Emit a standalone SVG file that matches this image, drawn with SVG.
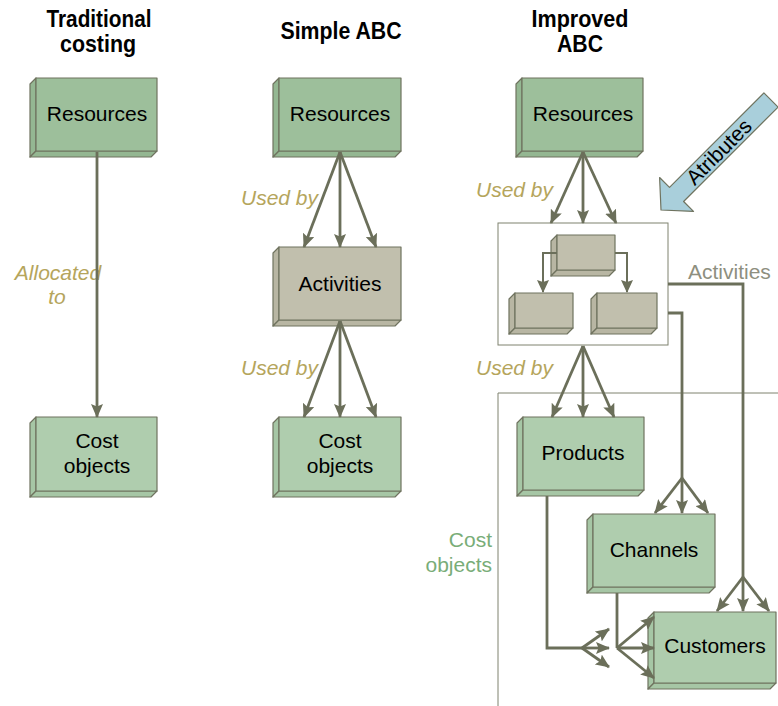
<svg xmlns="http://www.w3.org/2000/svg" width="778" height="706" viewBox="0 0 778 706">
  <style>
    .title { font-family: "Liberation Sans Narrow", "Liberation Sans", Arial, sans-serif; font-weight: bold; font-size: 24px; fill: #000; text-anchor: middle; }
    .node { font-family: "Liberation Sans", Arial, sans-serif; font-size: 21px; fill: #000; text-anchor: middle; }
    .usage { font-family: "Liberation Sans", Arial, sans-serif; font-size: 21px; font-style: italic; fill: #b5a55c; }
    .grey-label { font-family: "Liberation Sans", Arial, sans-serif; font-size: 21px; fill: #8e8f80; }
    .green-label { font-family: "Liberation Sans", Arial, sans-serif; font-size: 21px; fill: #79ad78; text-anchor: end; }
    .face { stroke: #6f735f; stroke-width: 1.2; stroke-linejoin: round; }
    .res { fill: #9dbf9b; }
    .obj { fill: #afcdae; }
    .act { fill: #c1bfad; }
    .res-side { fill: #94b792; }
    .obj-side { fill: #a6c6a5; }
    .act-side { fill: #b8b6a3; }
    .frame { fill: none; stroke: #7f826f; stroke-width: 1; }
    .conn { fill: none; stroke: #6b6f5a; stroke-width: 2.8; stroke-linejoin: miter; }
    .conn-thin { fill: none; stroke: #6b6f5a; stroke-width: 2; }
  </style>
  <defs>
    <marker id="head" markerUnits="userSpaceOnUse" viewBox="0 0 14 12" markerWidth="14" markerHeight="12" refX="13" refY="6" orient="auto">
      <path d="M0,0 L14,6 L0,12 L2.5,6 z" fill="#6b6f5a"/>
    </marker>
    <marker id="head-s" markerUnits="userSpaceOnUse" viewBox="0 0 13 12" markerWidth="13" markerHeight="12" refX="12" refY="6" orient="auto">
      <path d="M0,0 L13,6 L0,12 L2,6 z" fill="#6b6f5a"/>
    </marker>
  </defs>

  <rect width="778" height="706" fill="#ffffff"/>

  <!-- column headings -->
  <g id="headings">
    <text class="title" x="99" y="27" textLength="105" lengthAdjust="spacingAndGlyphs">Traditional</text>
    <text class="title" x="98" y="52" textLength="76" lengthAdjust="spacingAndGlyphs">costing</text>
    <text class="title" x="341" y="39" textLength="121" lengthAdjust="spacingAndGlyphs">Simple ABC</text>
    <text class="title" x="580" y="27" textLength="97" lengthAdjust="spacingAndGlyphs">Improved</text>
    <text class="title" x="580" y="52" textLength="46" lengthAdjust="spacingAndGlyphs">ABC</text>
  </g>

  <!-- outlines of the activity group and the cost-object area -->
  <g id="activities-frame">
    <rect class="frame" x="498" y="223" width="170" height="122" fill="#ffffff"/>
  </g>
  <g id="cost-objects-frame">
    <path class="frame" d="M778,393 H498 V706"/>
  </g>

  <!-- Traditional costing -->
  <g id="trad-resources">
    <path class="face res-side" d="M30,84 L36,78 L36,151 L30,157 z"/>
    <path class="face res-side" d="M36,151 L157,151 L151,157 L30,157 z"/>
    <rect class="face res" x="36" y="78" width="121" height="73"/>
    <text class="node" x="97" y="121">Resources</text>
  </g>
  <g id="trad-cost-objects">
    <path class="face obj-side" d="M30,423 L36,417 L36,491 L30,497 z"/>
    <path class="face obj-side" d="M36,491 L157,491 L151,497 L30,497 z"/>
    <rect class="face obj" x="36" y="417" width="121" height="74"/>
    <text class="node" x="97" y="448">Cost</text>
    <text class="node" x="97" y="473">objects</text>
  </g>

  <!-- Simple ABC -->
  <g id="simple-resources">
    <path class="face res-side" d="M273,84 L279,78 L279,151 L273,157 z"/>
    <path class="face res-side" d="M279,151 L401,151 L395,157 L273,157 z"/>
    <rect class="face res" x="279" y="78" width="122" height="73"/>
    <text class="node" x="340" y="121">Resources</text>
  </g>
  <g id="simple-activities">
    <path class="face act-side" d="M273,253 L279,247 L279,320 L273,326 z"/>
    <path class="face act-side" d="M279,320 L401,320 L395,326 L273,326 z"/>
    <rect class="face act" x="279" y="247" width="122" height="73"/>
    <text class="node" x="340" y="291">Activities</text>
  </g>
  <g id="simple-cost-objects">
    <path class="face obj-side" d="M273,423 L279,417 L279,491 L273,497 z"/>
    <path class="face obj-side" d="M279,491 L401,491 L395,497 L273,497 z"/>
    <rect class="face obj" x="279" y="417" width="122" height="74"/>
    <text class="node" x="340" y="448">Cost</text>
    <text class="node" x="340" y="473">objects</text>
  </g>

  <!-- Improved ABC -->
  <g id="improved-resources">
    <path class="face res-side" d="M516,84 L522,78 L522,151 L516,157 z"/>
    <path class="face res-side" d="M522,151 L643,151 L637,157 L516,157 z"/>
    <rect class="face res" x="522" y="78" width="121" height="73"/>
    <text class="node" x="583" y="121">Resources</text>
  </g>
  <g id="activity-top">
    <path class="face act-side" d="M551,241 L557,235 L557,270 L551,276 z"/>
    <path class="face act-side" d="M557,270 L615,270 L609,276 L551,276 z"/>
    <rect class="face act" x="557" y="235" width="58" height="35"/>
  </g>
  <g id="activity-left">
    <path class="face act-side" d="M509,299 L515,293 L515,328 L509,334 z"/>
    <path class="face act-side" d="M515,328 L573,328 L567,334 L509,334 z"/>
    <rect class="face act" x="515" y="293" width="58" height="35"/>
  </g>
  <g id="activity-right">
    <path class="face act-side" d="M591,299 L597,293 L597,328 L591,334 z"/>
    <path class="face act-side" d="M597,328 L657,328 L651,334 L591,334 z"/>
    <rect class="face act" x="597" y="293" width="60" height="35"/>
  </g>
  <g id="products">
    <path class="face obj-side" d="M517,423 L523,417 L523,490 L517,496 z"/>
    <path class="face obj-side" d="M523,490 L644,490 L638,496 L517,496 z"/>
    <rect class="face obj" x="523" y="417" width="121" height="73"/>
    <text class="node" x="583" y="460">Products</text>
  </g>
  <g id="channels">
    <path class="face obj-side" d="M587,520 L593,514 L593,587 L587,593 z"/>
    <path class="face obj-side" d="M593,587 L715,587 L709,593 L587,593 z"/>
    <rect class="face obj" x="593" y="514" width="122" height="73"/>
    <text class="node" x="654" y="557">Channels</text>
  </g>
  <g id="customers">
    <path class="face obj-side" d="M648,618 L654,612 L654,683 L648,689 z"/>
    <path class="face obj-side" d="M654,683 L776,683 L770,689 L648,689 z"/>
    <rect class="face obj" x="654" y="612" width="122" height="71"/>
    <text class="node" x="715" y="653">Customers</text>
  </g>

  <!-- attribute arrow -->
  <g id="atributes">
    <polygon points="763.9,92.9 778.1,107.1 683.6,201.5 693.5,211.4 661,210 659.6,177.5 669.5,187.4" fill="#a9cfdb" stroke="#6f735f" stroke-width="1.2" stroke-linejoin="round"/>
    <text class="node" font-size="20" transform="translate(719,152) rotate(-45)" x="0" y="7">Atributes</text>
  </g>

  <!-- labels -->
  <g id="labels">
    <text class="usage" x="58" y="280" text-anchor="middle">Allocated</text>
    <text class="usage" x="57" y="304" text-anchor="middle">to</text>
    <text class="usage" x="241" y="205">Used by</text>
    <text class="usage" x="241" y="375">Used by</text>
    <text class="usage" x="476" y="197">Used by</text>
    <text class="usage" x="476" y="375">Used by</text>
    <text class="grey-label" x="688" y="279">Activities</text>
    <text class="green-label" x="492" y="547">Cost</text>
    <text class="green-label" x="492" y="572">objects</text>
  </g>

  <!-- connectors -->
  <g id="connectors">
    <line class="conn" x1="97" y1="152" x2="97" y2="417" marker-end="url(#head)"/>

    <line class="conn" x1="340" y1="152" x2="304" y2="247" marker-end="url(#head)"/>
    <line class="conn" x1="340" y1="152" x2="340" y2="247" marker-end="url(#head)"/>
    <line class="conn" x1="340" y1="152" x2="376" y2="247" marker-end="url(#head)"/>

    <line class="conn" x1="340" y1="321" x2="304" y2="417" marker-end="url(#head)"/>
    <line class="conn" x1="340" y1="321" x2="340" y2="417" marker-end="url(#head)"/>
    <line class="conn" x1="340" y1="321" x2="376" y2="417" marker-end="url(#head)"/>

    <line class="conn" x1="583" y1="152" x2="551" y2="223" marker-end="url(#head)"/>
    <line class="conn" x1="583" y1="152" x2="583" y2="223" marker-end="url(#head)"/>
    <line class="conn" x1="583" y1="152" x2="616" y2="223" marker-end="url(#head)"/>

    <line class="conn" x1="583" y1="346" x2="552" y2="417" marker-end="url(#head)"/>
    <line class="conn" x1="583" y1="346" x2="583" y2="417" marker-end="url(#head)"/>
    <line class="conn" x1="583" y1="346" x2="614" y2="417" marker-end="url(#head)"/>

    <path class="conn-thin" d="M557,253 H543 V292" marker-end="url(#head-s)"/>
    <path class="conn-thin" d="M615,253 H627 V292" marker-end="url(#head-s)"/>

    <path class="conn" d="M668,313 H682 V478"/>
    <line class="conn" x1="682" y1="478" x2="655" y2="513" marker-end="url(#head)"/>
    <line class="conn" x1="682" y1="478" x2="682" y2="513" marker-end="url(#head)"/>
    <line class="conn" x1="682" y1="478" x2="708" y2="513" marker-end="url(#head)"/>

    <path class="conn" d="M668,284 H743 V577"/>
    <line class="conn" x1="743" y1="577" x2="717" y2="611" marker-end="url(#head)"/>
    <line class="conn" x1="743" y1="577" x2="743" y2="611" marker-end="url(#head)"/>
    <line class="conn" x1="743" y1="577" x2="769" y2="611" marker-end="url(#head)"/>

    <path class="conn" d="M547,496 V648 H582"/>
    <line class="conn" x1="582" y1="648" x2="609" y2="629" marker-end="url(#head)"/>
    <line class="conn" x1="582" y1="648" x2="609" y2="648" marker-end="url(#head)"/>
    <line class="conn" x1="582" y1="648" x2="609" y2="667" marker-end="url(#head)"/>

    <path class="conn" d="M617,593 V648"/>
    <line class="conn" x1="617" y1="648" x2="654" y2="617" marker-end="url(#head)"/>
    <line class="conn" x1="617" y1="648" x2="654" y2="648" marker-end="url(#head)"/>
    <line class="conn" x1="617" y1="648" x2="654" y2="678" marker-end="url(#head)"/>
  </g>
</svg>
